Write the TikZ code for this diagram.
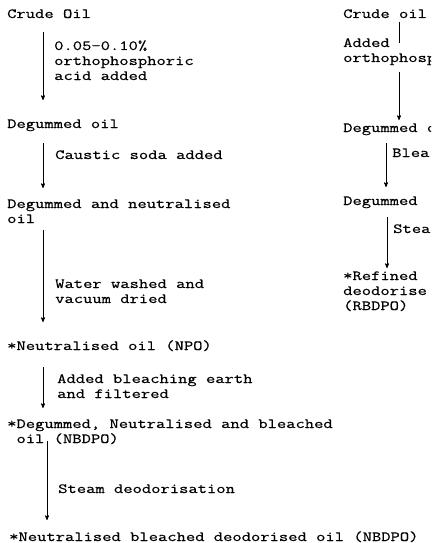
\documentclass[tikz,border=0pt]{standalone}
\usepackage{fontspec}
\setmonofont{Latin Modern Mono}[FakeStretch=1.29,FakeBold=0.5]
\usetikzlibrary{arrows,calc}
\newcommand{\oilfont}{\ttfamily\fontsize{14}{15}\selectfont}
\tikzset{
  stage/.style={anchor=base west,inner sep=0pt,align=left,font=\oilfont},
  treat/.style={stage},
  flow/.style={->,line width=0.7pt},
}

\begin{document}
\begin{tikzpicture}[>=stealth',x=1pt,y=-1pt]
\useasboundingbox (0,0) rectangle (431,543);
\clip (0,0) rectangle (431,543);
%%% left column: chemical refining (multi-line nodes sit on their last line)
\node[stage] (crude) at (7,18) {Crude Oil};
\node[treat] (acid) at (54,80) {0.05-0.10\%\\orthophosphoric\\acid added};
\node[stage] (degum) at (7,128) {Degummed oil};
\node[treat] (soda) at (55,159) {Caustic soda added};
\node[stage] (dneut) at (7,223) {Degummed and neutralised\\oil};
\node[treat] (wash) at (55,303) {Water washed and\\vacuum dried};
\node[stage] (npo) at (7,350) {*Neutralised oil (NPO)};
\node[treat] (earth) at (57,398) {Added bleaching earth\\and filtered};
\node[stage] (dnb) at (7,443) {*Degummed, Neutralised and bleached\\\phantom{*}oil (NBDPO)};
\node[treat] (steam) at (58,493) {Steam deodorisation};
\node[stage] (nbd) at (9,541) {*Neutralised bleached deodorised oil (NBDPO)};
\draw[flow] ($(crude.base west)+(36,14)$) -- ($(degum.base west)+(36,-28)$);
\draw[flow] ($(degum.base west)+(36,15)$) -- ($(dneut.base west)+(36,-35)$);
\draw[flow] ($(dneut.base west)+(36,7)$) -- ($(npo.base west)+(36,-28)$);
\draw[flow] ($(npo.base west)+(36,17)$) -- ($(dnb.base west)+(36,-35)$);
\draw[flow] ($(dnb.base west)+(40,-2)$) -- ($(nbd.base west)+(38,-21)$);
%%% right column: physical refining
\node[stage] (crude2) at (343,18) {Crude oil};
\node[treat] (acid2) at (343,62) {Added\\orthophosp};
\node[stage] (degum2) at (343,132) {Degummed o};
\node[treat] (bleach2) at (392,157) {Blea};
\node[stage] (dbl2) at (343,205) {Degummed};
\node[treat] (steam2) at (393,233) {Stea};
\node[stage] (rbd) at (343,310) {*Refined\\deodorise\\(RBDPO)};
\draw[line width=0.7pt] ($(crude2.base west)+(56,4)$) -- ($(acid2.base west)+(56,-19)$);
\draw[flow] ($(acid2.base west)+(56,10)$) -- ($(degum2.base west)+(56,-12)$);
\draw[flow] ($(degum2.base west)+(43,11)$) -- ($(dbl2.base west)+(43,-18)$);
\draw[flow] ($(dbl2.base west)+(44,12)$) -- ($(rbd.base west)+(44,-42)$);
\end{tikzpicture}
\end{document}
